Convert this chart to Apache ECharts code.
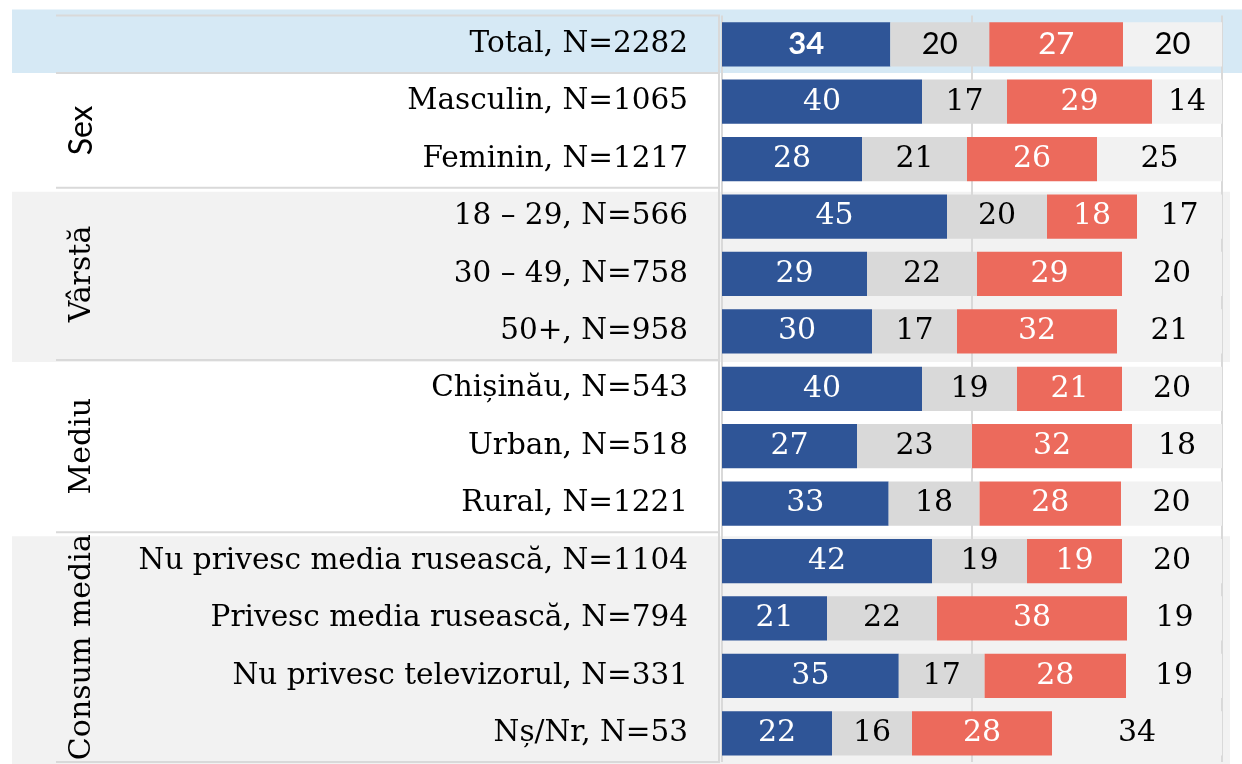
<!DOCTYPE html>
<html>
<head>
<meta charset="utf-8">
<script src="https://cdn.jsdelivr.net/npm/echarts@6/dist/echarts.min.js"></script>
<style>
  html, body { margin: 0; padding: 0; background: #fff; }
  #chart { width: 1242px; height: 764px; }
</style>
</head>
<body>
<div id="chart"></div>
<script>
// rows, top to bottom
const categories = [
  'Total, N=2282',
  'Masculin, N=1065', 'Feminin, N=1217',
  '18 – 29, N=566', '30 – 49, N=758', '50+, N=958',
  'Chișinău, N=543', 'Urban, N=518', 'Rural, N=1221',
  'Nu privesc media rusească, N=1104', 'Privesc media rusească, N=794',
  'Nu privesc televizorul, N=331', 'Nș/Nr, N=53'
]
const blueVals = [34, 40, 28, 45, 29, 30, 40, 27, 33, 42, 21, 35, 22]
const grayVals = [20, 17, 21, 20, 22, 17, 19, 23, 18, 19, 22, 17, 16]
const redVals  = [27, 29, 26, 18, 29, 32, 21, 32, 28, 19, 38, 28, 28]
const restVals = [20, 14, 25, 17, 20, 21, 20, 18, 20, 20, 19, 19, 34]

// group labels on the left: first row, last row
const groupNames = ['Sex', 'Vârstă', 'Mediu', 'Consum media']
const groupRows = [[1, 2], [3, 5], [6, 8], [9, 12]]

const serif = '"DejaVu Serif", serif'
const sans = 'Lato, "Open Sans", sans-serif'

const rowSums = categories.map((c, i) => blueVals[i] + grayVals[i] + redVals[i] + restVals[i])

const makeSeries = (name, vals, color, textColor) => ({
  name: name,
  type: 'bar',
  stack: 'all',
  barCategoryGap: '23%',
  itemStyle: { color: color },
  label: {
    show: true,
    position: 'inside',
    color: textColor,
    fontFamily: serif,
    fontSize: 30,
    formatter: (p) => vals[p.dataIndex]
  },
  data: vals.map((v, i) => {
    const item = { value: v / rowSums[i] * 100 }
    if (i === 0) {
      item.label = { fontFamily: sans, fontSize: 31, fontWeight: name === 'blue' ? 'bold' : 'normal' }
    }
    return item
  })
})

const chart = echarts.init(document.getElementById('chart'))
chart.setOption({
  animation: false,
  grid: { left: 722, right: 20, top: 15.6, bottom: 2 },
  xAxis: {
    type: 'value',
    min: 0,
    max: 100,
    interval: 50,
    axisLabel: { show: false },
    axisLine: { show: false },
    axisTick: { show: false },
    splitLine: { show: true, lineStyle: { color: '#d9d9d9', width: 2 } }
  },
  yAxis: {
    type: 'category',
    inverse: true,
    data: categories,
    axisLine: { show: false },
    axisTick: { show: false },
    axisLabel: { margin: 34, fontFamily: serif, fontSize: 29.5, color: '#000' }
  },
  series: [
    makeSeries('blue', blueVals, '#2f5597', '#fff'),
    makeSeries('gray', grayVals, '#d9d9d9', '#000'),
    makeSeries('red', redVals, '#ec6a5c', '#fff'),
    makeSeries('rest', restVals, '#f2f2f2', '#000')
  ]
})

// table decoration behind the chart: bands, separators, group names
const y0 = chart.convertToPixel({ yAxisIndex: 0 }, categories[0])
const y1 = chart.convertToPixel({ yAxisIndex: 0 }, categories[1])
const half = (y1 - y0) / 2
const edge = (i) => y0 + (i * 2 - 1) * half  // top edge of row i

const graphics = []
graphics.push({ type: 'rect', z: -10, shape: { x: 12, y: edge(0) - 6, width: 1230, height: edge(1) - edge(0) + 6 }, style: { fill: '#d6e9f5' } })
groupRows.forEach((g, k) => {
  if (k % 2 === 1) {
    graphics.push({ type: 'rect', z: -10, shape: { x: 12, y: edge(g[0]) + 4, width: 1218, height: edge(g[1] + 1) - edge(g[0]) - 2 }, style: { fill: '#f2f2f2' } })
  }
})
const seps = [0, 1, 3, 6, 9, 13]
seps.forEach((r) => {
  graphics.push({ type: 'line', z: -5, shape: { x1: 56, y1: edge(r), x2: 720, y2: edge(r) }, style: { stroke: '#d9d9d9', lineWidth: 2 } })
})
graphics.push({ type: 'line', z: -5, shape: { x1: 719, y1: edge(0), x2: 719, y2: edge(13) }, style: { stroke: '#d9d9d9', lineWidth: 2 } })
groupRows.forEach((g, k) => {
  graphics.push({
    type: 'text',
    x: 82,
    y: (edge(g[0]) + edge(g[1] + 1)) / 2,
    rotation: Math.PI / 2,
    style: {
      text: groupNames[k],
      fontFamily: k === 0 ? sans : serif,
      fontSize: k === 0 ? 32 : 30,
      fill: '#000',
      align: 'center',
      verticalAlign: 'middle'
    }
  })
})
chart.setOption({ graphic: graphics })
</script>
</body>
</html>
